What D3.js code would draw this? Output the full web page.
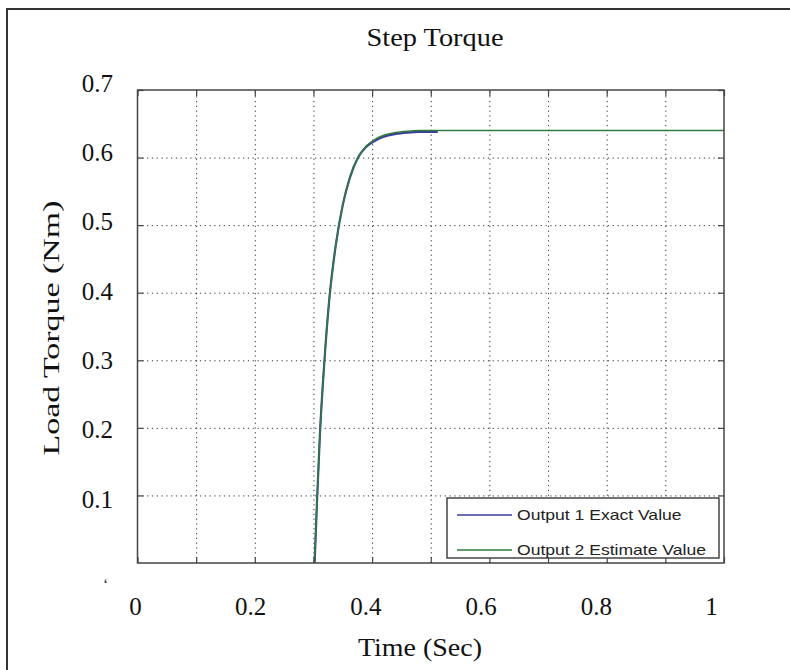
<!DOCTYPE html>
<html lang="en">
<head>
<meta charset="utf-8">
<title>Step Torque</title>
<script src="https://cdn.jsdelivr.net/npm/d3@7"></script>
<style>
    body { margin: 0; background: #fff; }
    .grid line { stroke: #333; stroke-width: 1; stroke-dasharray: 1.2,3.6; }
    .grid path { display: none; }
    .ticks line { stroke: #444; stroke-width: 1.2; }
    .ticks path { display: none; }
    .lbl path, .lbl line { display: none; }
    .lbl text { font-family: "Liberation Serif", "Times New Roman", serif; font-size: 25px; fill: #111; }
</style>
</head>
<body>
<svg width="790" height="670"></svg>
<script>
    // data
    var xTicks = [0, 0.2, 0.4, 0.6, 0.8, 1];
    var yTicks = [0.1, 0.2, 0.3, 0.4, 0.5, 0.6, 0.7];
    var gridSteps = [0.1, 0.2, 0.3, 0.4, 0.5, 0.6, 0.7, 0.8, 0.9];

    var estTime  = [0.302, 0.306, 0.311, 0.318, 0.327, 0.338, 0.350, 0.362, 0.376, 0.390, 0.405, 0.420, 0.440, 0.460, 0.480, 0.500, 0.520, 0.600, 0.800, 1.000];
    var estValue = [0.000, 0.090, 0.190, 0.290, 0.390, 0.470, 0.530, 0.570, 0.600, 0.617, 0.627, 0.633, 0.637, 0.639, 0.640, 0.640, 0.640, 0.640, 0.640, 0.640];

    var exactTime  = [0.302, 0.306, 0.311, 0.318, 0.327, 0.338, 0.350, 0.362, 0.376, 0.390, 0.405, 0.420, 0.440, 0.460, 0.480, 0.500, 0.512];
    var exactValue = [0.000, 0.090, 0.190, 0.290, 0.390, 0.470, 0.530, 0.570, 0.600, 0.616, 0.625, 0.631, 0.635, 0.637, 0.638, 0.638, 0.638];

    var seriesNames = ["Output 1 Exact Value", "Output 2 Estimate Value"];
    var seriesColors = ["#3c3c9c", "#2e7d3a"];

    var svg = d3.select("svg");
    var pLeft = 137.5, pRight = 724, pTop = 90, pBottom = 563;

    var x = d3.scaleLinear().domain([0, 1]).range([pLeft, pRight]);
    var y = d3.scaleLinear().domain([0, 0.7]).range([pBottom, pTop]);
    // the tick labels in the picture sit a little off the grid
    var xl = d3.scaleLinear().domain([0, 1]).range([135, 711]);
    var yl = d3.scaleLinear().domain([0.1, 0.7]).range([499, 83]);

    // outer frame
    svg.append("path")
        .attr("d", "M7,670 L7,9 L790,9")
        .attr("fill", "none").attr("stroke", "#333").attr("stroke-width", 2);

    // grid
    svg.append("g").attr("class", "grid")
        .attr("transform", "translate(0," + pBottom + ")")
        .call(d3.axisBottom(x).tickValues(gridSteps).tickSize(-(pBottom - pTop)).tickFormat(""));
    svg.append("g").attr("class", "grid")
        .attr("transform", "translate(" + pLeft + ",0)")
        .call(d3.axisLeft(y).tickValues(yTicks.slice(0, 6)).tickSize(-(pRight - pLeft)).tickFormat(""));

    // lines
    var line = d3.line().curve(d3.curveMonotoneX)
        .x(function(d) { return x(d[0]); })
        .y(function(d) { return y(d[1]); });

    var exact = d3.zip(exactTime, exactValue);
    var est = d3.zip(estTime, estValue);

    svg.append("path").datum(exact)
        .attr("d", line).attr("fill", "none")
        .attr("stroke", seriesColors[0]).attr("stroke-width", 2.2);
    svg.append("path").datum(est)
        .attr("d", line).attr("fill", "none")
        .attr("stroke", seriesColors[1]).attr("stroke-width", 1.5);

    // tick marks on all four sides, pointing inward
    var allX = [0].concat(gridSteps, [1]);
    svg.append("g").attr("class", "ticks")
        .attr("transform", "translate(0," + pBottom + ")")
        .call(d3.axisTop(x).tickValues(allX).tickSize(6).tickFormat(""));
    svg.append("g").attr("class", "ticks")
        .attr("transform", "translate(0," + pTop + ")")
        .call(d3.axisBottom(x).tickValues(allX).tickSize(6).tickFormat(""));
    svg.append("g").attr("class", "ticks")
        .attr("transform", "translate(" + pLeft + ",0)")
        .call(d3.axisRight(y).tickValues(yTicks).tickSize(6).tickFormat(""));
    svg.append("g").attr("class", "ticks")
        .attr("transform", "translate(" + pRight + ",0)")
        .call(d3.axisLeft(y).tickValues(yTicks).tickSize(6).tickFormat(""));

    // plot box
    svg.append("rect")
        .attr("x", pLeft).attr("y", pTop)
        .attr("width", pRight - pLeft).attr("height", pBottom - pTop)
        .attr("fill", "none").attr("stroke", "#444").attr("stroke-width", 1.5);

    // tick labels
    svg.append("g").attr("class", "lbl")
        .attr("transform", "translate(0,597)")
        .call(d3.axisBottom(xl).tickValues(xTicks).tickSize(0).tickPadding(0)
            .tickFormat(function(d) { return d === 0 || d === 1 ? d3.format("d")(d) : d3.format(".1f")(d); }));
    svg.append("g").attr("class", "lbl")
        .attr("transform", "translate(113,0)")
        .call(d3.axisLeft(yl).tickValues(yTicks).tickSize(0).tickPadding(0).tickFormat(d3.format(".1f")));

    // leftover mark of the hidden zero label
    svg.append("text").attr("x", 103).attr("y", 590)
        .style("font", "16px 'Liberation Serif', serif").attr("fill", "#333").text("\u2018");

    // titles
    svg.append("text").attr("x", 435).attr("y", 46).attr("text-anchor", "middle")
        .attr("textLength", 137).attr("lengthAdjust", "spacingAndGlyphs")
        .style("font", "25px 'Liberation Serif', serif").attr("fill", "#111").text("Step Torque");
    svg.append("text").attr("x", 420).attr("y", 656).attr("text-anchor", "middle")
        .attr("textLength", 124).attr("lengthAdjust", "spacingAndGlyphs")
        .style("font", "25px 'Liberation Serif', serif").attr("fill", "#111").text("Time (Sec)");
    svg.append("text").attr("transform", "translate(59,328) rotate(-90)").attr("text-anchor", "middle")
        .attr("textLength", 255).attr("lengthAdjust", "spacingAndGlyphs")
        .style("font", "24px 'Liberation Serif', serif").attr("fill", "#111").text("Load Torque (Nm)");

    // legend
    var lg = svg.append("g").attr("transform", "translate(447,498)");
    lg.append("rect").attr("width", 272).attr("height", 60)
        .attr("fill", "#fff").attr("stroke", "#444").attr("stroke-width", 1.5);
    var item = lg.selectAll(".item").data(seriesNames).enter().append("g")
        .attr("transform", function(d, i) { return "translate(0," + (17 + i * 35) + ")"; });
    item.append("line").attr("x1", 10).attr("x2", 65)
        .attr("stroke", function(d, i) { return seriesColors[i]; }).attr("stroke-width", 1.3);
    item.append("text").attr("x", 70).attr("dy", "0.35em")
        .style("font", "15px 'Liberation Sans', Arial, sans-serif").attr("fill", "#222")
        .text(function(d) { return d; })
        .each(function() {
            var w = this.getComputedTextLength();
            d3.select(this).attr("textLength", w * 1.17).attr("lengthAdjust", "spacingAndGlyphs");
        });
</script>
</body>
</html>
